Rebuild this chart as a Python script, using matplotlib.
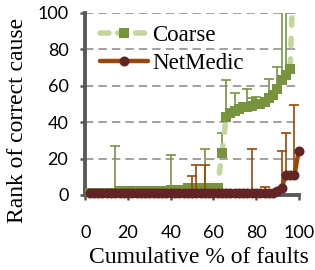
import matplotlib
matplotlib.use('Agg')
import matplotlib.pyplot as plt
import numpy as np
from matplotlib.lines import Line2D

# ---- data ----
pct = [2, 4, 6, 8, 10, 12, 14, 16, 18, 20, 22, 24, 26, 28, 30, 32, 34, 36, 38, 40,
       42, 44, 46, 48, 50, 52, 54, 56, 58, 60, 62, 64, 66, 68, 70, 72, 74, 76, 78, 80,
       82, 84, 86, 88, 90, 92, 94, 96, 98, 100]
coarse_rank = [1, 1, 1, 1, 1, 1, 1, 2, 2, 2, 2, 2, 2, 2, 2, 2, 2, 2, 2, 3,
               3, 3, 3, 4, 4, 4, 4, 4, 4, 4, 4, 23, 43, 45, 46, 47, 48, 48, 49, 50,
               50, 51, 53, 55, 58, 63, 66, 69, 140, 220]
coarse_err = [0, 0, 0, 0, 0, 0, 26, 2.6, 0, 0, 0, 0, 0, 0, 0, 0, 0, 0, 0, 19,
              0, 0, 0, 0, 0, 0, 0, 21, 0, 0, 0, 11, 20, 0, 10, 0, 0, 10, 4, 4,
              0, 0, 10.5, 0, 12.4, 67, 64, 0, 0, 0]
netmedic_rank = [1, 1, 1, 1, 1, 1, 1, 1, 1, 1, 1, 1, 1, 1, 1, 1, 1, 1, 1, 1,
                 1, 1, 1, 1, 1, 1, 1, 1, 1, 1, 1, 1, 1, 1, 1, 1, 1, 1, 1, 1,
                 1, 1, 1, 1, 2, 4, 11, 11, 11, 24]
netmedic_err = [0, 0, 0, 0, 0, 0, 0, 0, 0, 0, 0, 0, 0, 0, 0, 0, 0, 0, 0, 0,
                0, 0, 0, 0, 9.6, 15.7, 0, 15.7, 0, 0, 0, 0, 0, 0, 0, 0, 0, 0, 24, 0,
                0, 3.6, 0, 0, 0, 20, 23, 0, 38.6, 0]
xticks = [0, 20, 40, 60, 80, 100]
yticks = [0, 20, 40, 60, 80, 100]

# ---- style ----
c_light = '#c3d69b'
c_green = '#77933c'
c_brown = '#984807'
c_dark = '#632523'
c_axis = '#595959'
c_grid = '#868686'
serif = ['Liberation Serif', 'DejaVu Serif']
sans = ['Lato', 'DejaVu Sans']

fig = plt.figure(figsize=(3.15, 2.7), dpi=100)
ax = fig.add_axes([0.2711, 0.2778, 0.6771, 0.6752])

x = np.array(pct, dtype=float)
cr = np.array(coarse_rank, dtype=float)
ce = np.array(coarse_err, dtype=float)
nr = np.array(netmedic_rank, dtype=float)
ne = np.array(netmedic_err, dtype=float)

# grid
ax.set_axisbelow(True)
ax.yaxis.grid(True, color=c_grid, lw=1.1, linestyle=(0, (5.5, 3.3)))

# Coarse
mc = ce > 0
ax.errorbar(x[mc], cr[mc], yerr=[np.zeros(mc.sum()), ce[mc]], fmt='none',
            ecolor=c_green, elinewidth=1.2, capsize=3.6, capthick=1.2, zorder=2)
ax.plot(x, cr, color=c_light, lw=4, linestyle=(0, (1.3, 2.4)),
        dash_capstyle='round', zorder=3)
ax.plot(x, cr, linestyle='none', marker='s', markersize=6.5, color=c_green,
        markeredgewidth=0, zorder=4)

# NetMedic
mn = ne > 0
ax.errorbar(x[mn], nr[mn], yerr=[np.zeros(mn.sum()), ne[mn]], fmt='none',
            ecolor=c_brown, elinewidth=1.2, capsize=3.6, capthick=1.2, zorder=5)
ax.plot(x, nr, color=c_brown, lw=3.2, solid_capstyle='round', zorder=6, clip_on=False)
ax.plot(x, nr, linestyle='none', marker='o', markersize=7.2, color=c_dark,
        markeredgewidth=0, zorder=7, clip_on=False)

# legend proxies
h1 = Line2D([], [], color=c_light, lw=4, linestyle=(0, (1.6, 1.6)), dash_capstyle='round',
            marker='s', markersize=6.5, markerfacecolor=c_green, markeredgewidth=0)
h2 = Line2D([], [], color=c_brown, lw=3.2, solid_capstyle='round',
            marker='o', markersize=7.2, markerfacecolor=c_dark, markeredgewidth=0)
leg = ax.legend([h1, h2], ['Coarse', 'NetMedic'], loc='upper left',
                bbox_to_anchor=(0.035, 0.97), frameon=False, numpoints=1,
                handlelength=2.1, handletextpad=0.2, labelspacing=0.3,
                borderpad=0.3, borderaxespad=0.0,
                prop={'family': serif, 'size': 16.5})

ax.set_xlim(0, 100)
ax.set_ylim(0, 100)
ax.set_xticks(xticks)
ax.set_yticks(yticks)
ax.set_xticklabels([str(v) for v in xticks], family=sans, fontsize=13)
ax.set_yticklabels([str(v) for v in yticks], family=sans, fontsize=13)

for s in ['top', 'right']:
    ax.spines[s].set_visible(False)
for s in ['left', 'bottom']:
    ax.spines[s].set_color(c_axis)
    ax.spines[s].set_linewidth(2.8)
ax.tick_params(axis='both', direction='out', length=3.6, width=1.8, color=c_axis)
ax.tick_params(axis='x', pad=18)
ax.tick_params(axis='y', pad=8.6)

ax.set_xlabel('Cumulative % of faults', family=serif, fontsize=17)
ax.set_ylabel('Rank of correct cause', family=serif, fontsize=17)
ax.xaxis.set_label_coords(0.533, -0.285)
ax.yaxis.set_label_coords(-0.27, 0.41)

fig.savefig('out.png', dpi=100)
